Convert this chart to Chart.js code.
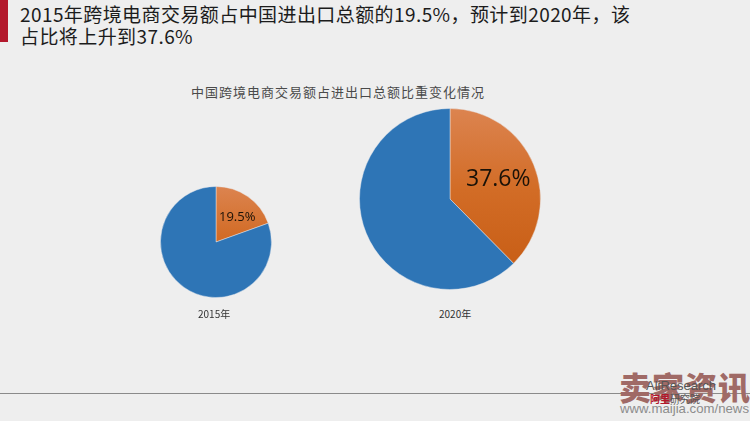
<!DOCTYPE html>
<html>
<head>
<meta charset="utf-8">
<script src="https://cdn.jsdelivr.net/npm/chart.js@4"></script>
<style>
    html, body { margin: 0; padding: 0; }
    body { width: 750px; height: 421px; background: #eeeeee; overflow: hidden; position: relative; font-family: "Noto Sans CJK SC", "Noto Sans", sans-serif; }
    canvas, .txt { position: absolute; }
    .txt { white-space: nowrap; }
    #bar { position: absolute; left: 0; top: 0; width: 8px; height: 42px; background: #b3182c; }
    #rule { position: absolute; left: 0; top: 393px; width: 750px; height: 1px; background: #8a8a8a; }
    #headline { left: 20px; top: 3px; font-size: 19px; line-height: 22px; letter-spacing: 0.42px; color: #1c1c1c; }
    #chartTitle { left: 191px; top: 82px; font-size: 13px; letter-spacing: 1px; color: #4a4a4a; }
    .year { font-size: 10px; color: #333; }
    .pct { font-family: "Open Sans", sans-serif; color: #1a1208; }
    #brand { left: 619px; top: 368px; font-size: 32px; line-height: 36px; font-weight: 900; color: #a06a66; letter-spacing: 1px; }
    #url { left: 620px; top: 401px; font-family: "Liberation Sans", sans-serif; font-size: 13.2px; color: #8c8c8c; }
    #ali { left: 646px; top: 378px; font-family: "Liberation Sans", sans-serif; font-size: 13px; color: #555; }
    #aliCn { left: 650px; top: 391px; font-size: 10px; color: #555; }
    #aliCn b { color: #b3182c; }
</style>
</head>
<body>
<div id="bar"></div>
<div id="rule"></div>
<div class="txt" id="headline"></div>
<div class="txt" id="chartTitle"></div>
<canvas id="pie2015" style="left:160px;top:186px"></canvas>
<canvas id="pie2020" style="left:359px;top:108px"></canvas>
<div class="txt pct" id="label2015" style="left:219px;top:207px;font-size:13px"></div>
<div class="txt pct" id="label2020" style="left:466px;top:161px;font-size:23px"></div>
<div class="txt year" id="year2015" style="left:198px;top:306px"></div>
<div class="txt year" id="year2020" style="left:439px;top:306px"></div>
<div class="txt" id="brand">卖家资讯</div>
<div class="txt" id="ali">AliResearch</div>
<div class="txt" id="aliCn"><b>阿里</b>研究院</div>
<div class="txt" id="url">www.maijia.com/news</div>
<script>
const headlineLines = ['2015年跨境电商交易额占中国进出口总额的19.5%，预计到2020年，该', '占比将上升到37.6%']
const chartTitle = '中国跨境电商交易额占进出口总额比重变化情况'
const categories = ['跨境电商交易额占比', '其他']
const years = ['2015年', '2020年']
const values2015 = [19.5, 80.5]
const values2020 = [37.6, 62.4]

document.getElementById('headline').innerHTML = headlineLines.join('<br>')
document.getElementById('chartTitle').textContent = chartTitle

function pieChart(id, size, datas) {
    const canvas = document.getElementById(id)
    canvas.style.width = size + 'px'
    canvas.style.height = size + 'px'
    const config = {
        type: 'pie',
        data: {
            labels: categories,
            datasets: [{
                data: datas,
                backgroundColor: function (c) {
                    if (c.dataIndex === 1) return '#2e75b6'
                    const area = c.chart.chartArea
                    if (!area) return '#d0692a'
                    // orange slice fades from light at the top
                    const g = c.chart.ctx.createLinearGradient(0, area.top, 0, area.bottom)
                    g.addColorStop(0, '#dc8450')
                    g.addColorStop(0.45, '#d26c26')
                    g.addColorStop(1, '#c55a11')
                    return g
                },
                borderColor: 'rgba(232, 236, 240, 0.45)',
                borderWidth: 1
            }]
        },
        options: {
            responsive: false,
            animation: false,
            plugins: { legend: { display: false }, tooltip: { enabled: false } },
            layout: { padding: 0 }
        }
    }
    canvas.width = size
    canvas.height = size
    new Chart(canvas.getContext('2d'), config)
}

pieChart('pie2015', 112, values2015)
pieChart('pie2020', 182, values2020)

document.getElementById('label2015').textContent = values2015[0].toFixed(1) + '%'
document.getElementById('label2020').textContent = values2020[0].toFixed(1) + '%'
document.getElementById('year2015').textContent = years[0]
document.getElementById('year2020').textContent = years[1]
</script>
</body>
</html>
